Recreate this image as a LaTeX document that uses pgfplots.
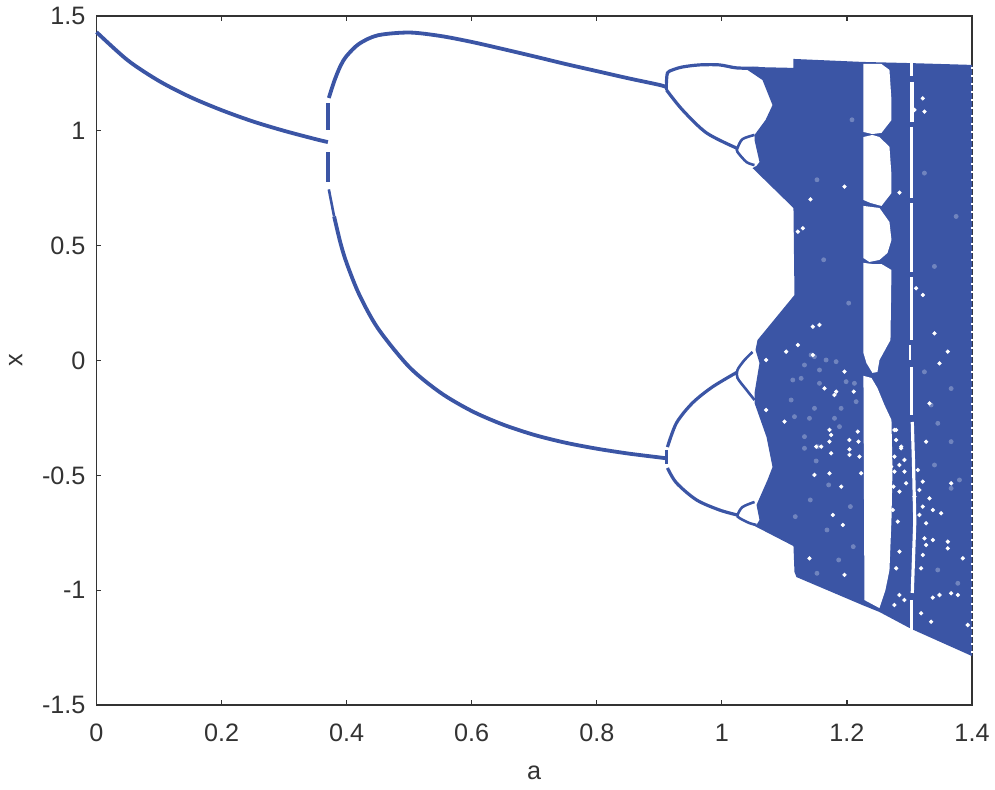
\documentclass[border=0pt]{standalone}
\usepackage{fontspec}
\setmainfont{Liberation Sans}
\usepackage{pgfplots}
\pgfplotsset{compat=1.18}
\definecolor{orbit}{HTML}{3B55A5}
\definecolor{pale}{HTML}{7084BE}
\definecolor{frame}{HTML}{333333}
\begin{document}
\begin{tikzpicture}
\useasboundingbox (-48.25pt,-42.5pt) rectangle (449.25pt,352.5pt);
\begin{axis}[
  scale only axis, width=437.75pt, height=344.5pt,
  xmin=0, xmax=1.4, ymin=-1.5, ymax=1.5,
  xtick={0,0.2,0.4,0.6,0.8,1,1.2,1.4},
  xticklabels={0,0.2,0.4,0.6,0.8,1,1.2,1.4},
  ytick={-1.5,-1,-0.5,0,0.5,1,1.5},
  yticklabels={-1.5,-1,-0.5,0,0.5,1,1.5},
  tick align=inside, major tick length=2.5pt, tick style={frame,line width=0.6pt},
  axis line style={frame,line width=0.75pt},
  xticklabel style={yshift=-6pt}, yticklabel style={xshift=-2pt},
  xlabel={a}, ylabel={x},
  xlabel style={yshift=-5pt}, ylabel style={yshift=3pt},
  tick label style={frame,font=\fontsize{12.6}{15}\selectfont}, label style={frame,font=\fontsize{12.6}{15}\selectfont},
  clip=false,
]
% fixed point
\addplot[orbit,line width=1.9pt,smooth] coordinates {(0,1.43)(.05,1.307)(.1,1.217)(.15,1.147)(.2,1.09)(.25,1.041)(.3,1.0)(.35,.964)(.37,.951)};
% period 2
\addplot[orbit,line width=1.9pt,smooth] coordinates {(.3715,1.143)(.38,1.215)(.39,1.282)(.4,1.326)(.42,1.379)(.45,1.416)(.5,1.428)(.55,1.413)(.6,1.387)(.65,1.356)(.7,1.324)(.75,1.291)(.8,1.26)(.85,1.229)(.9,1.2)(.9114,1.19)};
\addplot[orbit,line width=1.3pt] coordinates {(.3715,.745)(.38,.627)};
\addplot[orbit,line width=1.9pt,smooth] coordinates {(.38,.627)(.39,.513)(.4,.424)(.42,.288)(.45,.14)(.5,-.028)(.55,-.14)(.6,-.22)(.65,-.279)(.7,-.324)(.75,-.358)(.8,-.384)(.85,-.405)(.9,-.422)(.9114,-.426)};
\addplot[orbit,line width=1.9pt] coordinates {(.3705,1.121)(.3705,1.004)};
\addplot[orbit,line width=1.9pt] coordinates {(.3705,.906)(.3705,.777)};
% period 4
\addplot[orbit,line width=1.6pt,smooth] coordinates {(1.06,1.272)(1.0234,1.274)(.9962,1.287)(.9642,1.287)(.937,1.278)(.921,1.265)(.913,1.252)(.9114,1.208)};
\addplot[orbit,line width=1.6pt,smooth] coordinates {(.9114,1.178)(.937,1.091)(.9754,.991)(1.0234,.925)};
\addplot[orbit,line width=1.6pt] coordinates {(.9114,1.208)(.9114,1.178)};
\addplot[orbit,line width=1.6pt,smooth] coordinates {(1.025,-.05)(.985,-.115)(.953,-.185)(.9274,-.272)(.913,-.377)};
\addplot[orbit,line width=1.6pt] coordinates {(.9114,-.39)(.9114,-.45)};
\addplot[orbit,line width=1.6pt,smooth] coordinates {(.913,-.468)(.9274,-.533)(.9594,-.607)(.9962,-.651)(1.025,-.673)};
% period 8
\addplot[orbit,line width=1.3pt,smooth] coordinates {(1.0522,.982)(1.033,.964)(1.025,.925)(1.025,.908)(1.0394,.864)(1.0522,.851)};
\addplot[orbit,line width=1.3pt,smooth] coordinates {(1.049,.037)(1.0362,.002)(1.025,-.041)(1.025,-.076)(1.0394,-.128)(1.0522,-.172)};
\addplot[orbit,line width=1.3pt,smooth] coordinates {(1.0522,-.616)(1.033,-.638)(1.025,-.673)(1.0282,-.686)(1.0442,-.708)(1.0554,-.716)};
% chaotic band
\addplot[fill=orbit,draw=none] coordinates {(1.0362,1.274)(1.049,1.278)(1.1145,1.274)(1.1145,1.313)(1.2248,1.30)(1.3,1.295)(1.4,1.287)(1.4,-1.287)(1.3064,-1.173)(1.2968,-1.16)(1.252,-1.095)(1.2248,-1.065)(1.1193,-.943)(1.1161,-.921)(1.1145,-.808)(1.049,-.716)(1.0554,-.716)(1.0602,-.694)(1.0554,-.629)(1.073,-.52)(1.081,-.464)(1.0714,-.333)(1.0522,-.185)(1.0522,-.142)(1.0602,-.011)(1.0538,.046)(1.057,.089)(1.1161,.285)(1.1145,.664)(1.049,.838)(1.0554,.847)(1.0602,.864)(1.0522,.96)(1.0522,.982)(1.0698,1.047)(1.081,1.112)(1.065,1.221)(1.0362,1.274)} -- cycle;
% period 3 window cells
\addplot[fill=white,draw=none] coordinates {(1.2264,1.291)(1.2552,1.291)(1.268,1.265)(1.2712,1.134)(1.2712,1.047)(1.2552,.991)(1.2408,.986)(1.2264,.995)} -- cycle;
\addplot[fill=white,draw=none] coordinates {(1.2264,.973)(1.2408,.982)(1.252,.973)(1.268,.93)(1.2712,.808)(1.2712,.729)(1.2552,.673)(1.2376,.686)(1.2264,.699)} -- cycle;
\addplot[fill=white,draw=none] coordinates {(1.2264,.673)(1.252,.664)(1.268,.603)(1.2712,.525)(1.2648,.468)(1.252,.438)(1.236,.429)(1.2264,.446)} -- cycle;
\addplot[fill=white,draw=none] coordinates {(1.2264,.425)(1.2408,.42)(1.2552,.42)(1.2712,.394)(1.2696,.089)(1.252,.002)(1.2488,-.05)(1.2408,-.054)(1.2312,-.011)(1.2264,.033)} -- cycle;
\addplot[fill=white,draw=none] coordinates {(1.2264,-.067)(1.2392,-.076)(1.2488,-.12)(1.26,-.194)(1.2712,-.259)(1.2728,-.477)(1.2712,-.694)(1.268,-.912)(1.2616,-.999)(1.252,-1.078)(1.228,-1.043)} -- cycle;
% narrow window
\addplot[white,line width=1.4pt] coordinates {(1.3029,1.295)(1.3029,1.239)};
\addplot[white,line width=1.8pt] coordinates {(1.3045,1.2126)(1.3045,1.038)};
\addplot[white,line width=1.6pt] coordinates {(1.3029,1.017)(1.3029,.7075)};
\addplot[white,line width=1.6pt] coordinates {(1.3029,.686)(1.3029,.385)};
\addplot[white,line width=1.6pt] coordinates {(1.3029,.3636)(1.3029,.089)};
\addplot[white,line width=1.2pt] coordinates {(1.3013,.0675)(1.3013,.002)};
\addplot[white,line width=1.6pt] coordinates {(1.3029,-.0283)(1.3029,-.2373)};
\addplot[white,line width=1.6pt] coordinates {(1.3045,-.2678)(1.3065,-.45)(1.3085,-.7)(1.3045,-1.0123)};
\addplot[white,line width=1.6pt] coordinates {(1.3029,-1.043)(1.3029,-1.19)};
% ragged right edge
\addplot[white,line width=0.8pt,dash pattern=on 1pt off 3pt] coordinates {(1.4,1.28)(1.4,-1.28)};
% pale specks
\addplot[only marks,mark=*,mark size=1pt,pale] coordinates {
(1.1427,.0239)(1.148,.0167)(1.1667,.0022)(1.1827,-.0051)(1.1321,-.0196)(1.1134,-.0849)(1.1268,-.0777)(1.1561,-.0994)
(1.1108,-.172)(1.1481,-.2083)(1.1401,-.2518)(1.1801,-.2518)(1.1881,-.2881)(1.1534,-.3752)(1.1321,-.3824)(1.1161,-.2446)
(1.1907,-.2083)(1.2147,-.1792)(1.1561,-.0414)(1.1987,-.0922)(1.212,-.0994)(1.1321,-.3316)(1.34,-.455)(1.3666,-.3534)
(1.3453,-.2736)(1.3346,-.1938)(1.3799,-.5203)(1.3666,-.5566)(1.1508,-.4375)(1.1708,-.5418)(1.2055,-.6362)(1.1414,-.6072)
(1.1681,-.7378)(1.1174,-.6798)(1.2101,-.8105)(1.1868,-.8685)(1.1521,-.9266)(1.3773,-.9701)(1.3452,-.9121)(1.3666,-.1221)
(1.3239,-.0495)(1.3399,.4095)(1.3746,.6272)(1.3239,.8159)(1.1628,.4385)(1.2028,.2498)(1.1521,.7869)(1.2081,1.0481)};
% white specks
\addplot[only marks,mark=*,mark size=0.85pt,white] coordinates {
(1.0708,.0022)(1.1028,.0385)(1.1215,.0675)(1.1455,.0240)(1.1641,-.1211)(1.1828,-.1356)(1.1801,-.1502)(1.1961,-.0486)
(1.1002,-.2663)(1.0708,-.2155)(1.1721,-.3025)(1.1748,-.3243)(1.2174,-.3098)(1.1748,-.4041)(1.2041,-.4114)(1.1508,-.3751)
(1.1588,-.3751)(1.1721,-.4912)(1.1481,-.4985)(1.1908,-.5493)(1.2227,-.4912)(1.2201,-.4187)(1.1401,-.8613)(1.1961,-.9339)
(1.1774,-.6726)(1.1934,-.7162)(1.211,-.1357)(1.204,-.3461)(1.2184,-.3534)(1.172,-.3534)(1.204,-.3868)
(1.276,-.3026)(1.2787,-.3462)(1.2866,-.3824)(1.276,-.4187)(1.284,-.455)(1.276,-.484)(1.292,-.484)(1.2744,-.5493)
(1.284,-.5711)(1.2733,-.6509)(1.2813,-.7017)(1.292,-.4332)(1.2707,-.4623)(1.2946,-.5348)(1.2787,-.3025)(1.2867,-.3751)
(1.3266,-.3534)(1.3133,-.4768)(1.3213,-.5276)(1.316,-.5639)(1.308,-.5929)(1.3213,-.6364)(1.3506,-.6654)(1.316,-.6727)
(1.332,-.6001)(1.3373,-.6509)(1.3266,-.709)(1.3613,-.7889)(1.3613,-.8179)(1.3266,-.8034)(1.324,-.7744)(1.3213,-.8469)
(1.3853,-.8614)(1.3773,-1.0211)(1.3346,-1.1372)(1.276,-1.0646)(1.3932,-1.1517)(1.3186,-1.1009)(1.3373,-.7816)(1.284,-.8324)
(1.2787,-.905)(1.348,-1.0211)(1.3666,-1.0138)(1.3373,-1.0327)(1.284,-1.0211)(1.292,-1.0428)(1.3186,-.905)
(1.3320,-.1864)(1.3613,.0385)(1.3480,-.0123)(1.3667,-.5348)(1.1417,.7018)(1.1961,.7569)(1.324,1.0835)(1.3080,1.0907)
(1.3213,1.1415)(1.2840,.7308)(1.3107,.3143)(1.3214,.2853)(1.1215,.5610)(1.1295,.5755)(1.1455,.1474)(1.1561,.1546)(1.3400,.1184)};
\end{axis}
\end{tikzpicture}
\end{document}
